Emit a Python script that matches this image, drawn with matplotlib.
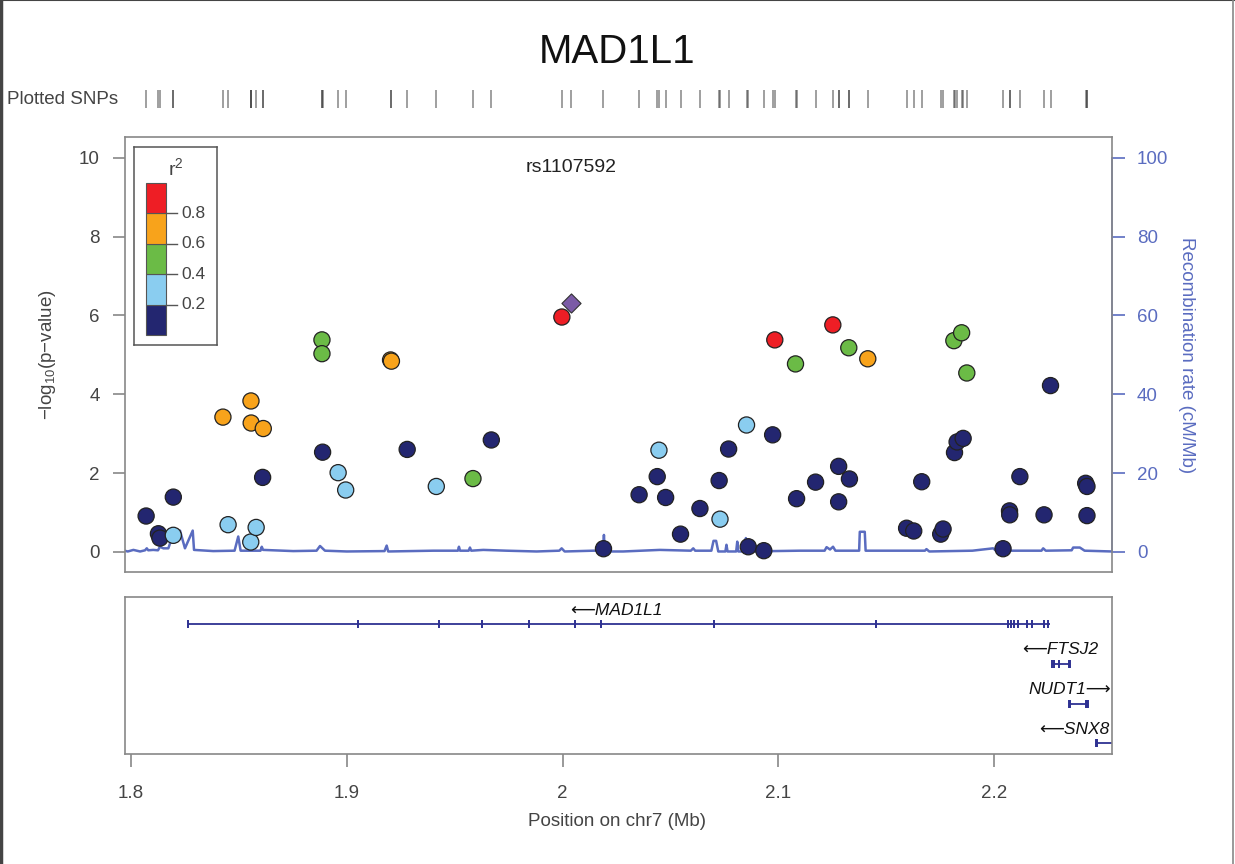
import numpy as np
import matplotlib
matplotlib.use("Agg")
import matplotlib.pyplot as plt
from matplotlib.lines import Line2D

plt.rcParams['font.family'] = ['Liberation Sans', 'DejaVu Sans']
plt.rcParams['mathtext.fontset'] = 'custom'
plt.rcParams['mathtext.rm'] = 'Liberation Sans'
plt.rcParams['mathtext.it'] = 'Liberation Sans:italic'

# snp data (position in Mb, -log10 p, r2)
snp_pos = [1.8070, 1.8127, 1.8134, 1.8196, 1.8610, 1.8888, 1.9280, 1.9670, 2.0190, 2.0355,
           2.0439, 2.0478, 2.0547, 2.0637, 2.0726, 2.0770, 2.0861, 2.0933, 2.0974, 2.1085,
           2.1173, 2.1280, 2.1280, 2.1330, 2.1595, 2.1628, 2.1665, 2.1753, 2.1764, 2.1817,
           2.1829, 2.1857, 2.2042, 2.2072, 2.2073, 2.2120, 2.2232, 2.2262, 2.2425, 2.2431,
           2.2431,
           1.8196, 1.8450, 1.8555, 1.8580, 1.8960, 1.8995, 1.9415, 2.0447, 2.0730, 2.0853,
           1.8885, 1.8885, 1.9585, 2.1080, 2.1327, 2.1814, 2.1850, 2.1874,
           1.8426, 1.8556, 1.8557, 1.8613, 1.9203, 1.9207, 2.1415,
           1.9997, 2.0984, 2.1253]
snp_logp = [0.91, 0.46, 0.35, 1.39, 1.89, 2.53, 2.60, 2.84, 0.08, 1.45,
            1.91, 1.38, 0.45, 1.10, 1.81, 2.61, 0.13, 0.03, 2.97, 1.35,
            1.77, 2.17, 1.27, 1.85, 0.60, 0.53, 1.78, 0.45, 0.58, 2.52,
            2.79, 2.88, 0.08, 1.04, 0.94, 1.91, 0.94, 4.22, 1.74, 1.66,
            0.92,
            0.42, 0.69, 0.25, 0.62, 2.01, 1.57, 1.66, 2.58, 0.83, 3.22,
            5.38, 5.03, 1.86, 4.77, 5.18, 5.36, 5.56, 4.54,
            3.42, 3.83, 3.27, 3.13, 4.87, 4.84, 4.90,
            5.96, 5.38, 5.76]
snp_r2 = [0.1] * 41 + [0.3] * 10 + [0.5] * 8 + [0.7] * 7 + [0.9] * 3

index_snp = "rs1107592"
index_pos = 2.0039
index_logp = 6.32

r2_breaks = [0.2, 0.4, 0.6, 0.8]
r2_labels = ["0.2", "0.4", "0.6", "0.8"]
r2_colors = ['#232670', '#8ACDF0', '#6BBB46', '#F8A31B', '#EE1E25']

# recombination rate (cM/Mb)
recomb_pos = [1.7970, 1.7985, 1.8011, 1.8042, 1.8065, 1.8073, 1.8080, 1.8103, 1.8125, 1.8134,
              1.8150, 1.8173, 1.8181, 1.8227, 1.8250, 1.8286, 1.8292, 1.8381, 1.8480, 1.8497,
              1.8508, 1.8600, 1.8606, 1.8612, 1.8752, 1.8860, 1.8876, 1.8899, 1.9000, 1.9175,
              1.9185, 1.9192, 1.9401, 1.9515, 1.9520, 1.9525, 1.9565, 1.9571, 1.9577, 1.9633,
              1.9741, 1.9880, 1.9985, 1.9996, 2.0010, 2.0142, 2.0188, 2.0192, 2.0196, 2.0281,
              2.0451, 2.0595, 2.0606, 2.0615, 2.0690, 2.0700, 2.0712, 2.0722, 2.0755, 2.0760,
              2.0765, 2.0805, 2.0810, 2.0815, 2.0845, 2.0850, 2.0855, 2.1100, 2.1215, 2.1224,
              2.1240, 2.1254, 2.1265, 2.1375, 2.1378, 2.1401, 2.1405, 2.1680, 2.1687, 2.1700,
              2.1900, 2.1996, 2.2010, 2.2220, 2.2228, 2.2240, 2.2360, 2.2367, 2.2398, 2.2420,
              2.2547]
recomb_rate = [0.3, 0.1, 0.5, 0.1, 0.4, 0.9, 0.4, 0.5, 0.4, 1.3,
               0.9, 0.9, 2.2, 5.4, 0.9, 5.4, 0.5, 0.2, 0.3, 3.9,
               0.3, 0.3, 1.3, 0.5, 0.2, 0.3, 1.5, 0.3, 0.1, 0.2,
               1.6, 0.1, 0.3, 0.3, 1.3, 0.3, 0.3, 1.1, 0.3, 0.5,
               0.3, 0.1, 0.3, 0.9, 0.1, 0.3, 0.3, 4.3, 0.1, 0.1,
               0.5, 0.3, 0.9, 0.3, 0.3, 2.8, 2.8, 0.1, 0.1, 1.8,
               0.1, 0.1, 2.6, 0.1, 0.1, 3.5, 0.1, 0.3, 0.3, 1.2,
               0.6, 1.3, 0.3, 0.3, 5.1, 5.1, 0.3, 0.3, 0.7, 0.1,
               0.3, 0.9, 0.3, 0.3, 0.9, 0.3, 0.4, 1.1, 1.1, 0.3,
               0.1]

# genes
gene_names = ["MAD1L1", "FTSJ2", "NUDT1", "SNX8"]
gene_start = [1.8262, 2.2271, 2.2347, 2.2472]
gene_end = [2.2259, 2.2351, 2.2438, 2.2600]
gene_strand = ["-", "-", "+", "-"]
gene_label_x = [2.0250, 2.2305, 2.2352, 2.2370]
gene_exons = [[1.8262, 1.9054, 1.9426, 1.9625, 1.9846, 2.0058, 2.0177, 2.0702, 2.1455,
               2.2067, 2.2081, 2.2095, 2.2110, 2.2154, 2.2177, 2.2234, 2.2252],
              [2.2271, 2.2276, 2.2300, 2.2347, 2.2351],
              [2.2347, 2.2352, 2.2425, 2.2433, 2.2438],
              [2.2472, 2.2478]]

xlim = (1.7972, 2.2547)
ylim = (-0.51, 10.53)

gray = '#888888'
txt = '#444444'
blue = '#5A6CC0'
navy_line = '#2E3192'

fig = plt.figure(figsize=(12.35, 8.64), dpi=100)

ax = fig.add_axes([0.1012, 0.338, 0.7992, 0.5035])
ax2 = ax.twinx()
ax.set_zorder(ax2.get_zorder() + 1)
ax.patch.set_visible(False)

ax2.plot(recomb_pos, recomb_rate, color=blue, lw=1.8)
ax2.set_ylim(ylim[0] * 10, ylim[1] * 10)
ax2.set_yticks([0, 20, 40, 60, 80, 100])
ax2.tick_params(axis='y', colors=blue, length=9, width=1.2, pad=9, labelsize=13.5)
ax2.spines['right'].set_color(blue)
ax2.spines['right'].set_bounds(0, 100)
ax2.spines['right'].set_linewidth(1.2)
for s in ['top', 'left', 'bottom']:
    ax2.spines[s].set_visible(False)

snp_pos = np.array(snp_pos)
snp_logp = np.array(snp_logp)
snp_r2 = np.array(snp_r2)
cols = np.array(r2_colors)[np.digitize(snp_r2, r2_breaks)]
order = np.argsort(snp_r2, kind='stable')
ax.scatter(snp_pos[order], snp_logp[order], c=cols[order], s=135, edgecolors='#222222',
           linewidths=0.9, zorder=3)
ax.scatter([index_pos], [index_logp], marker='D', s=95, c='#7B5BA6', edgecolors='#333333',
           linewidths=0.8, zorder=4)
ax.text(index_pos, 9.75, index_snp, ha='center', va='center', fontsize=14, color='#222222')

ax.set_xlim(xlim)
ax.set_ylim(ylim)
ax.set_yticks([0, 2, 4, 6, 8, 10])
ax.set_xticks([])
ax.tick_params(axis='y', colors=gray, labelcolor=txt, length=9, width=1.2, pad=9, labelsize=13.5)
for s in ax.spines.values():
    s.set_color(gray)
    s.set_linewidth(1.2)

# r2 legend
leg = ax.inset_axes([0.0091, 0.522, 0.0841, 0.455])
leg.set_xlim(0, 1)
leg.set_ylim(0, 1)
leg.set_xticks([])
leg.set_yticks([])
for s in leg.spines.values():
    s.set_color('#555555')
    s.set_linewidth(1.1)
seg = 0.154
for i, c in enumerate(r2_colors):
    leg.bar(0.265, seg, width=0.241, bottom=0.05 + i * seg, color=c, edgecolor='#555555', lw=0.8)
for i, lab in enumerate(r2_labels):
    yy = 0.05 + (i + 1) * seg
    leg.plot([0.386, 0.514], [yy, yy], color='#555555', lw=1)
    leg.text(0.57, yy, lab, ha='left', va='center', fontsize=12.5, color=txt)
leg.text(0.50, 0.894, r'r$^2$', ha='center', va='center', fontsize=14, color=txt)

# plotted snps rug
rug = fig.add_axes([0.1012, 0.875, 0.7992, 0.0208])
rug.vlines(list(snp_pos) + [index_pos], 0, 1, color='#333333', lw=1.2, alpha=0.55)
rug.set_xlim(xlim)
rug.set_ylim(0, 1)
rug.axis('off')
fig.text(7 / 1235, 1 - 100 / 864, "Plotted SNPs", ha='left', va='center', fontsize=13.5, color=txt)

# gene panel
gax = fig.add_axes([0.1012, 0.1273, 0.7992, 0.1817])
for i, name in enumerate(gene_names):
    yy = -i
    gax.plot([gene_start[i], gene_end[i]], [yy, yy], color=navy_line, lw=1.3, solid_capstyle='butt')
    gax.vlines(gene_exons[i], yy - 0.1, yy + 0.1, color=navy_line, lw=1.4)
    if gene_strand[i] == "-":
        lab = "\u27f5" + name
    else:
        lab = name + "\u27f6"
    gax.text(gene_label_x[i], yy + 0.35, lab, ha='center', va='center', fontsize=12.5,
             style='italic', color='#111111')
gax.set_xlim(xlim)
gax.set_ylim(-3.27, 0.68)
gax.set_yticks([])
gax.set_xticks([1.8, 1.9, 2.0, 2.1, 2.2])
gax.set_xticklabels(["1.8", "1.9", "2", "2.1", "2.2"])
gax.tick_params(axis='x', colors=gray, labelcolor=txt, length=9, width=1.2, pad=13, labelsize=13.5)
for s in gax.spines.values():
    s.set_color(gray)
    s.set_linewidth(1.2)

fig.text(617 / 1235, 1 - 52 / 864, "MAD1L1", ha='center', va='center', fontsize=29, color='#111111')
fig.text(617 / 1235, 1 - 822 / 864, "Position on chr7 (Mb)", ha='center', va='center',
         fontsize=13.5, color=txt)
fig.text(47 / 1235, 1 - 355 / 864, "\u2212log$_{10}$(p\u2212value)", ha='center', va='center',
         rotation=90, fontsize=13.5, color=txt)
fig.text(1186 / 1235, 1 - 355 / 864, "Recombination rate (cM/Mb)", ha='center', va='center',
         rotation=270, fontsize=13.5, color=blue)

# frame round the figure
fig.add_artist(Line2D([0.001, 0.001], [0, 1], transform=fig.transFigure, color='#444444', lw=2.5))
fig.add_artist(Line2D([0, 1], [0.9995, 0.9995], transform=fig.transFigure, color='#444444', lw=1.5))
fig.add_artist(Line2D([0.9985, 0.9985], [0, 1], transform=fig.transFigure, color='#888888', lw=1.2))

fig.savefig("out.png", dpi=100)
